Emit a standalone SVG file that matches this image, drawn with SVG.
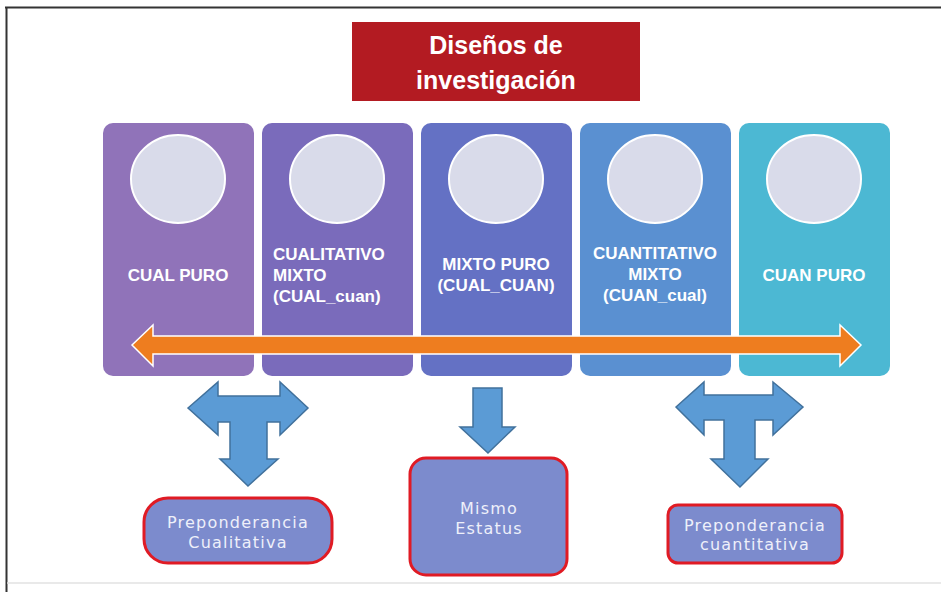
<svg xmlns="http://www.w3.org/2000/svg" width="941" height="592" viewBox="0 0 941 592">
<style>
.col-t{font-family:"Liberation Sans",Arial,sans-serif;font-weight:bold;font-size:17px;fill:#ffffff;}
.title-t{font-family:"Liberation Sans",Arial,sans-serif;font-weight:bold;font-size:25px;fill:#ffffff;text-anchor:middle;}
.box-t{font-family:"DejaVu Sans",Verdana,sans-serif;font-size:16px;letter-spacing:1.2px;fill:#eef0fa;text-anchor:middle;}
.circ{fill:#d9dbea;stroke:#ffffff;stroke-width:2;}
.res{fill:#7c8bcd;stroke:#e01b24;stroke-width:3;}
.blue{fill:#5b9bd5;stroke:#41719c;stroke-width:1.5;stroke-linejoin:miter;}
</style>
<rect x="0" y="0" width="941" height="592" fill="#ffffff"/>
<g id="frame">
<line x1="5" y1="7.5" x2="941" y2="7.5" stroke="#333333" stroke-width="2"/>
<line x1="6.5" y1="7" x2="6.5" y2="592" stroke="#333333" stroke-width="2"/>
<line x1="7" y1="583" x2="941" y2="583" stroke="#e2e2e2" stroke-width="1.5"/>
</g>
<g id="title">
<rect x="352" y="22" width="288" height="79" fill="#b31b22"/>
<text class="title-t" x="496" y="54">Diseños de</text>
<text class="title-t" x="496" y="89">investigación</text>
</g>
<g id="cual-puro">
<rect x="103" y="123" width="151" height="253" rx="10" fill="#9073b9"/>
<ellipse class="circ" cx="178" cy="179" rx="47" ry="44"/>
<text class="col-t" x="178" y="281" text-anchor="middle">CUAL PURO</text>
</g>
<g id="cualitativo-mixto">
<rect x="262" y="123" width="151" height="253" rx="10" fill="#7a6bbb"/>
<ellipse class="circ" cx="337" cy="179" rx="47" ry="44"/>
<text class="col-t" x="273" y="260">CUALITATIVO</text>
<text class="col-t" x="273" y="281">MIXTO</text>
<text class="col-t" x="273" y="302">(CUAL_cuan)</text>
</g>
<g id="mixto-puro">
<rect x="421" y="123" width="151" height="253" rx="10" fill="#6471c4"/>
<ellipse class="circ" cx="496" cy="179" rx="47" ry="44"/>
<text class="col-t" x="496" y="270" text-anchor="middle">MIXTO PURO</text>
<text class="col-t" x="496" y="291" text-anchor="middle">(CUAL_CUAN)</text>
</g>
<g id="cuantitativo-mixto">
<rect x="580" y="123" width="151" height="253" rx="10" fill="#5a90d1"/>
<ellipse class="circ" cx="655" cy="179" rx="47" ry="44"/>
<text class="col-t" x="655" y="259" text-anchor="middle">CUANTITATIVO</text>
<text class="col-t" x="655" y="280" text-anchor="middle">MIXTO</text>
<text class="col-t" x="655" y="301" text-anchor="middle">(CUAN_cual)</text>
</g>
<g id="cuan-puro">
<rect x="739" y="123" width="151" height="253" rx="10" fill="#4cb8d3"/>
<ellipse class="circ" cx="814" cy="179" rx="47" ry="44"/>
<text class="col-t" x="814" y="281" text-anchor="middle">CUAN PURO</text>
</g>
<g id="connectors">
<path d="M132,345 L153,325 L153,336 L840,336 L840,325 L861,345 L840,366 L840,354 L153,354 L153,366 Z" fill="#ee7d1f" stroke="#ffffff" stroke-width="1.5"/>
<path class="blue" d="M188,408 L218,382 L218,396 L280,396 L280,382 L308,408 L280,435 L280,422 L267,422 L267,459 L278,459 L248,486 L220,459 L230,459 L230,422 L218,422 L218,435 Z"/>
<path class="blue" d="M473,388 L502,388 L502,427 L515,427 L488,453 L460,427 L473,427 Z"/>
<path class="blue" d="M676,407 L704,382 L704,395 L773,395 L773,382 L803,407 L773,435 L773,420 L755,420 L755,459 L768,459 L740,487 L711,459 L724,459 L724,420 L704,420 L704,435 Z"/>
</g>
<g id="preponderancia-cualitativa">
<rect class="res" x="144" y="498" width="188" height="65" rx="24"/>
<text class="box-t" x="238" y="528">Preponderancia</text>
<text class="box-t" x="238" y="548">Cualitativa</text>
</g>
<g id="mismo-estatus">
<rect class="res" x="410" y="458" width="157" height="117" rx="16"/>
<text class="box-t" x="489" y="514">Mismo</text>
<text class="box-t" x="489" y="534">Estatus</text>
</g>
<g id="preponderancia-cuantitativa">
<rect class="res" x="668" y="505" width="174" height="58" rx="10"/>
<text class="box-t" x="755" y="531">Preponderancia</text>
<text class="box-t" x="755" y="550">cuantitativa</text>
</g>
</svg>
